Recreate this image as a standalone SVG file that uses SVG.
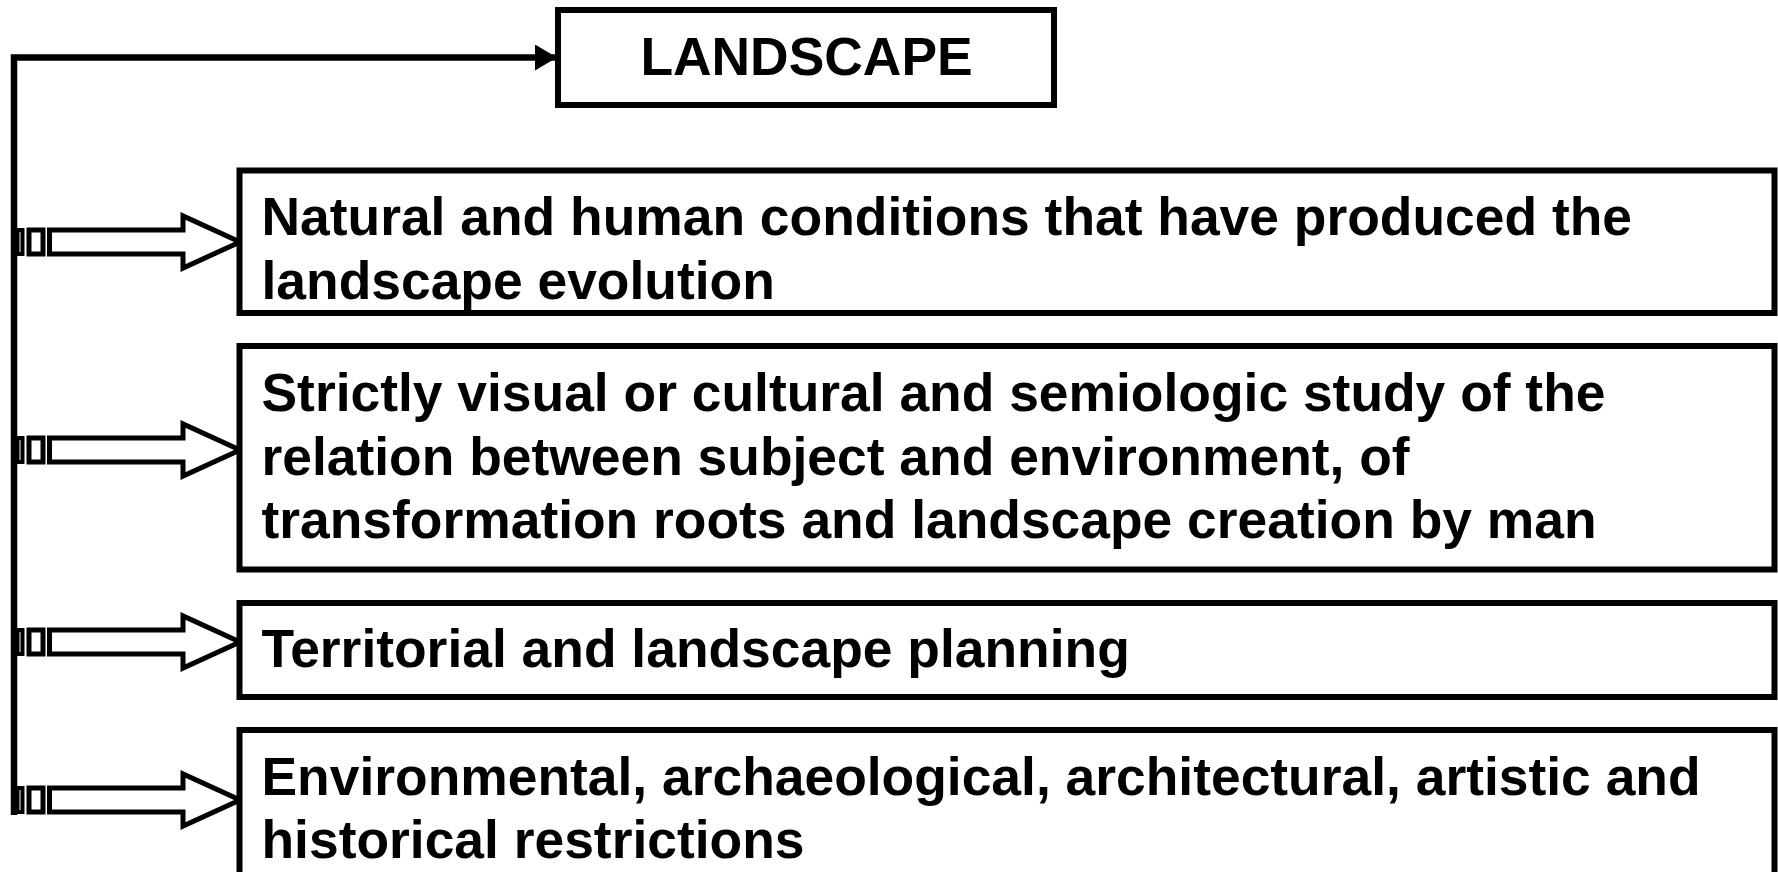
<svg xmlns="http://www.w3.org/2000/svg" width="1778" height="872" viewBox="0 0 1778 872">
<style>
.box{fill:#fff;stroke:#000;stroke-width:6}
.t{font-family:"Liberation Sans",Arial,sans-serif;font-weight:bold;font-size:53.4px;fill:#000}
.ln{fill:none;stroke:#000;stroke-width:6.5}
.arr{fill:#fff;stroke:#000;stroke-width:5}
.s1{fill:#fff;stroke:#000;stroke-width:4}
</style>
<defs>
<g id="sarrow">
<rect class="s1" x="17.5" y="-12" width="5" height="24"/>
<rect class="arr" x="29" y="-12" width="14" height="24"/>
<path class="arr" d="M49.5,-12 H183 V-26 L240,0 L183,26 V12 H49.5 Z"/>
</g>
<marker id="ah" markerWidth="22" markerHeight="26" refX="22" refY="13" orient="auto" markerUnits="userSpaceOnUse">
<path d="M0,0 L22,13 L0,26 Z" fill="#000"/>
</marker>
</defs>
<rect width="1778" height="872" fill="#fff"/>
<g id="connectors">
<path class="ln" d="M14,815 V57.5 H557" marker-end="url(#ah)"/>
<use href="#sarrow" transform="translate(0,242)"/>
<use href="#sarrow" transform="translate(0,450)"/>
<use href="#sarrow" transform="translate(0,642)"/>
<use href="#sarrow" transform="translate(0,800)"/>
</g>
<g id="landscape">
<rect class="box" x="558" y="10" width="496" height="95"/>
<text class="t" x="806.5" y="75" text-anchor="middle">LANDSCAPE</text>
</g>
<g id="natural">
<rect class="box" x="239.5" y="170.5" width="1535" height="142.5"/>
<text class="t" x="261.5" y="235">Natural and human conditions that have produced the</text>
<text class="t" x="261.5" y="299">landscape evolution</text>
</g>
<g id="visual">
<rect class="box" x="239.5" y="346" width="1535" height="223.5"/>
<text class="t" x="261.5" y="411">Strictly visual or cultural and semiologic study of the</text>
<text class="t" x="261.5" y="475">relation between subject and environment, of</text>
<text class="t" x="261.5" y="538">transformation roots and landscape creation by man</text>
</g>
<g id="planning">
<rect class="box" x="239.5" y="603" width="1535" height="94"/>
<text class="t" x="261.5" y="667">Territorial and landscape planning</text>
</g>
<g id="restrictions">
<rect class="box" x="239.5" y="730" width="1535" height="180"/>
<text class="t" x="261.5" y="795">Environmental, archaeological, architectural, artistic and</text>
<text class="t" x="261.5" y="858">historical restrictions</text>
</g>
</svg>
